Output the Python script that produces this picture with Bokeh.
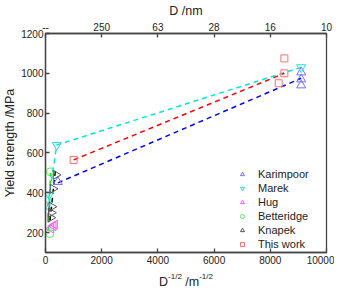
import math
from bokeh.plotting import figure
from bokeh.layouts import column
from bokeh.models import LinearAxis, FixedTicker, Range1d, Legend, LegendItem
from bokeh.core.properties import value
from bokeh.embed import file_html
from bokeh.resources import INLINE

# ---- data ----
x_ticks = [0, 2000, 4000, 6000, 8000, 10000]
top_tick_labels = ["--", "250", "63", "28", "16", "10"]
y_ticks = [200, 400, 600, 800, 1000, 1200]

kar_x = [440, 9100, 9100, 9100]
kar_y = [455, 1005, 970, 940]
kar_fit_x = [440, 9100]
kar_fit_y = [450, 975]

marek_x = [9100, 400, 130, 70]
marek_y = [1030, 640, 390, 340]
marek_fit_x = [9100, 400, 70]
marek_fit_y = [1030, 640, 330]

hug_x = [200, 280, 330]
hug_y = [220, 232, 240]

bett_x = [170, 150]
bett_y = [505, 195]
bett_fit_x = [100, 180]
bett_fit_y = [210, 500]

knap_x = [370, 260, 220, 200, 180]
knap_y = [490, 420, 330, 300, 275]
knap_fit_x = [350, 150]
knap_fit_y = [510, 250]

tw_x = [1000, 8500, 8500, 8300]
tw_y = [565, 1075, 1000, 950]
tw_fit_x = [1000, 8500]
tw_fit_y = [565, 1000]

# x-axis title pieces: (text, superscript?, leading space?)
xlabel_parts = [("D", False, False), ("-1/2", True, False), ("/m", False, True), ("-1/2", True, False)]

FONT = "Liberation Sans"
AX = "#444444"
W = 334
LEFT = 38
RIGHT = 8

xr = Range1d(0, 10000)
p = figure(width=W, height=266, output_backend="svg", toolbar_location=None,
           x_range=xr, y_range=Range1d(100, 1200),
           min_border_right=RIGHT, min_border_bottom=14, min_border_top=4, min_border_left=LEFT)
p.grid.visible = False
p.outline_line_color = AX
p.outline_line_width = 1.3

xa = p.xaxis[0]
xa.ticker = FixedTicker(ticks=x_ticks)
ya = p.yaxis[0]
ya.ticker = FixedTicker(ticks=y_ticks)
ya.axis_label = "Yield strength /MPa"

top = LinearAxis(ticker=FixedTicker(ticks=x_ticks),
                 major_label_overrides={t: s for t, s in zip(x_ticks, top_tick_labels)},
                 axis_label="D /nm")
p.add_layout(top, "above")

for ax in [xa, ya, top]:
    ax.axis_line_color = AX
    ax.axis_line_width = 1.3
    ax.major_tick_line_color = AX
    ax.major_tick_line_width = 1.3
    ax.major_tick_in = 4
    ax.major_tick_out = 0
    ax.minor_tick_line_color = None
    ax.major_label_text_font = FONT
    ax.major_label_text_font_size = "10px"
    ax.major_label_text_color = "#222222"
    ax.major_label_standoff = 3
    ax.axis_label_text_font = FONT
    ax.axis_label_text_font_size = "12.5px"
    ax.axis_label_text_font_style = "normal"
    ax.axis_label_text_color = "#222222"
    ax.axis_label_standoff = 2
ya.major_label_standoff = 2
ya.axis_label_standoff = 1

DASH = "5 4"
LW = 1.5
p.line(bett_fit_x, bett_fit_y, line_color="#00ee00", line_dash=DASH, line_width=LW)
p.line(knap_fit_x, knap_fit_y, line_color="#000000", line_dash=DASH, line_width=LW)
p.line(kar_fit_x, kar_fit_y, line_color="#0000ff", line_dash=DASH, line_width=LW)
p.line(marek_fit_x, marek_fit_y, line_color="#00e8e8", line_dash=DASH, line_width=LW)
p.line(tw_fit_x, tw_fit_y, line_color="#ff0000", line_dash=DASH, line_width=LW)

S = 9
r_kar = p.scatter(kar_x, kar_y, marker="triangle", size=S, fill_color=None, line_color="#7070ff", line_width=1)
r_mar = p.scatter(marek_x, marek_y, marker="inverted_triangle", size=S, fill_color=None, line_color="#22dddd", line_width=1)
r_hug = p.scatter(hug_x, hug_y, marker="triangle", angle=math.pi / 2, size=S, fill_color=None, line_color="#ff55ff", line_width=1)
r_bet = p.scatter(bett_x, bett_y, marker="circle", size=S - 1, fill_color=None, line_color="#55ee55", line_width=1)
r_kna = p.scatter(knap_x, knap_y, marker="triangle", angle=-math.pi / 2, size=S, fill_color=None, line_color="#555555", line_width=1)
r_tw = p.scatter(tw_x, tw_y, marker="square", size=7, fill_color=None, line_color="#ff7070", line_width=1)

legend = Legend(items=[LegendItem(label="Karimpoor", renderers=[r_kar]),
                       LegendItem(label="Marek", renderers=[r_mar]),
                       LegendItem(label="Hug", renderers=[r_hug]),
                       LegendItem(label="Betteridge", renderers=[r_bet]),
                       LegendItem(label="Knapek", renderers=[r_kna]),
                       LegendItem(label="This work", renderers=[r_tw])],
                location=(192, 1), border_line_color=None, background_fill_alpha=0,
                label_text_font=FONT, label_text_font_size="11px", label_text_color="#222222",
                glyph_width=10, glyph_height=14, label_height=14, spacing=0,
                padding=0, margin=0, label_standoff=11)
p.add_layout(legend)

# ---- strip under the plot carrying the x-axis title with superscripts ----
LH = 21
lab = figure(width=W, height=LH, output_backend="svg", toolbar_location=None,
             x_range=xr, y_range=Range1d(0, LH),
             x_axis_location=None, y_axis_location=None,
             min_border_left=LEFT, min_border_right=RIGHT,
             min_border_top=0, min_border_bottom=0)
lab.outline_line_color = None
lab.grid.visible = False

sizes = {False: 12.5, True: 8.0}
char_w = {"D": 0.722, "-": 0.333, "1": 0.556, "/": 0.278, "2": 0.556, "m": 0.833}
SPACE = 0.278
total = sum((sum(char_w[c] for c in t) + (SPACE if sp else 0)) * sizes[s] for t, s, sp in xlabel_parts)
off = -total / 2
for txt, sup, sp in xlabel_parts:
    fs = sizes[sup]
    if sp:
        off += SPACE * fs
    lab.text(x=[5000], y=[11 if sup else 6], x_offset=off, text=[txt], text_font=value(FONT),
             text_font_size="%gpx" % fs, text_color="#222222",
             text_align="left", text_baseline="alphabetic")
    off += sum(char_w[c] for c in txt) * fs

open("out.html", "w").write(file_html(column(p, lab, spacing=0), INLINE))
